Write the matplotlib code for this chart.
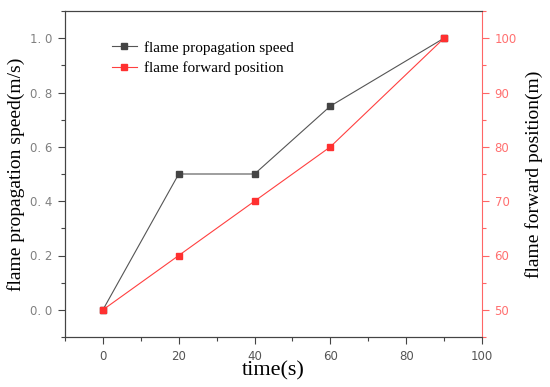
import matplotlib.pyplot as plt
from matplotlib.ticker import MultipleLocator

time_s = [0, 20, 40, 60, 90]
speed = [0.0, 0.5, 0.5, 0.75, 1.0]
position = [50, 60, 70, 80, 100]
speed_ticks = [0, 0.2, 0.4, 0.6, 0.8, 1.0]
speed_tick_labels = ['0. 0', '0. 2', '0. 4', '0. 6', '0. 8', '1. 0']

fig = plt.figure(figsize=(5.5, 3.87), dpi=100)
ax = fig.add_axes([65/550, 50/387, 417/550, 326/387])
ax2 = ax.twinx()

l1, = ax.plot(time_s, speed, color='#555555', lw=0.8, marker='s', ms=5,
              markerfacecolor='#444444', markeredgecolor='#444444',
              label='flame propagation speed')
l2, = ax2.plot(time_s, position, color='#ff4040', lw=0.8, marker='s', ms=5,
               markerfacecolor='#ff3030', markeredgecolor='#ff3030',
               label='flame forward position')

ax.set_xlim(-10, 100)
ax.set_ylim(-0.1, 1.1)
ax2.set_ylim(45, 105)

ax.xaxis.set_major_locator(MultipleLocator(20))
ax.xaxis.set_minor_locator(MultipleLocator(10))
ax.yaxis.set_minor_locator(MultipleLocator(0.1))
ax2.yaxis.set_major_locator(MultipleLocator(10))
ax2.yaxis.set_minor_locator(MultipleLocator(5))
ax.set_yticks(speed_ticks)
ax.set_yticklabels(speed_tick_labels)

for lab in ax.get_xticklabels() + ax.get_yticklabels() + ax2.get_yticklabels():
    lab.set_fontfamily('DejaVu Sans')
    lab.set_fontsize(8.5)

ax.tick_params(axis='x', which='major', length=5, width=0.8, color='#444444', labelcolor='#555555', pad=4)
ax.tick_params(axis='x', which='minor', length=3, width=0.8, color='#444444')
ax.tick_params(axis='y', which='major', length=5, width=0.8, color='#444444', labelcolor='#808080', pad=4)
ax.tick_params(axis='y', which='minor', length=3, width=0.8, color='#444444')
ax2.tick_params(axis='y', which='major', length=5, width=0.8, color='#ff6666', labelcolor='#ff7070', pad=4)
ax2.tick_params(axis='y', which='minor', length=3, width=0.8, color='#ff6666')

for s in ['left', 'bottom', 'top']:
    ax.spines[s].set_color('#444444')
    ax2.spines[s].set_color('#444444')
ax2.spines['right'].set_color('#ff6666')
ax.spines['right'].set_visible(False)

ax.set_xlabel('time(s)', family='Liberation Serif', fontsize=16, labelpad=-1)
ax.set_ylabel('flame propagation speed(m/s)', family='Liberation Serif', fontsize=14, labelpad=4)
ax2.set_ylabel('flame forward position(m)', family='Liberation Serif', fontsize=14, labelpad=6)

ax.legend(handles=[l1, l2], loc='upper left', bbox_to_anchor=(0.08, 0.95), frameon=False,
          prop={'family': 'Liberation Serif', 'size': 11}, handlelength=1.6,
          handletextpad=0.5, labelspacing=0.45)

fig.savefig('out.png', dpi=100)
